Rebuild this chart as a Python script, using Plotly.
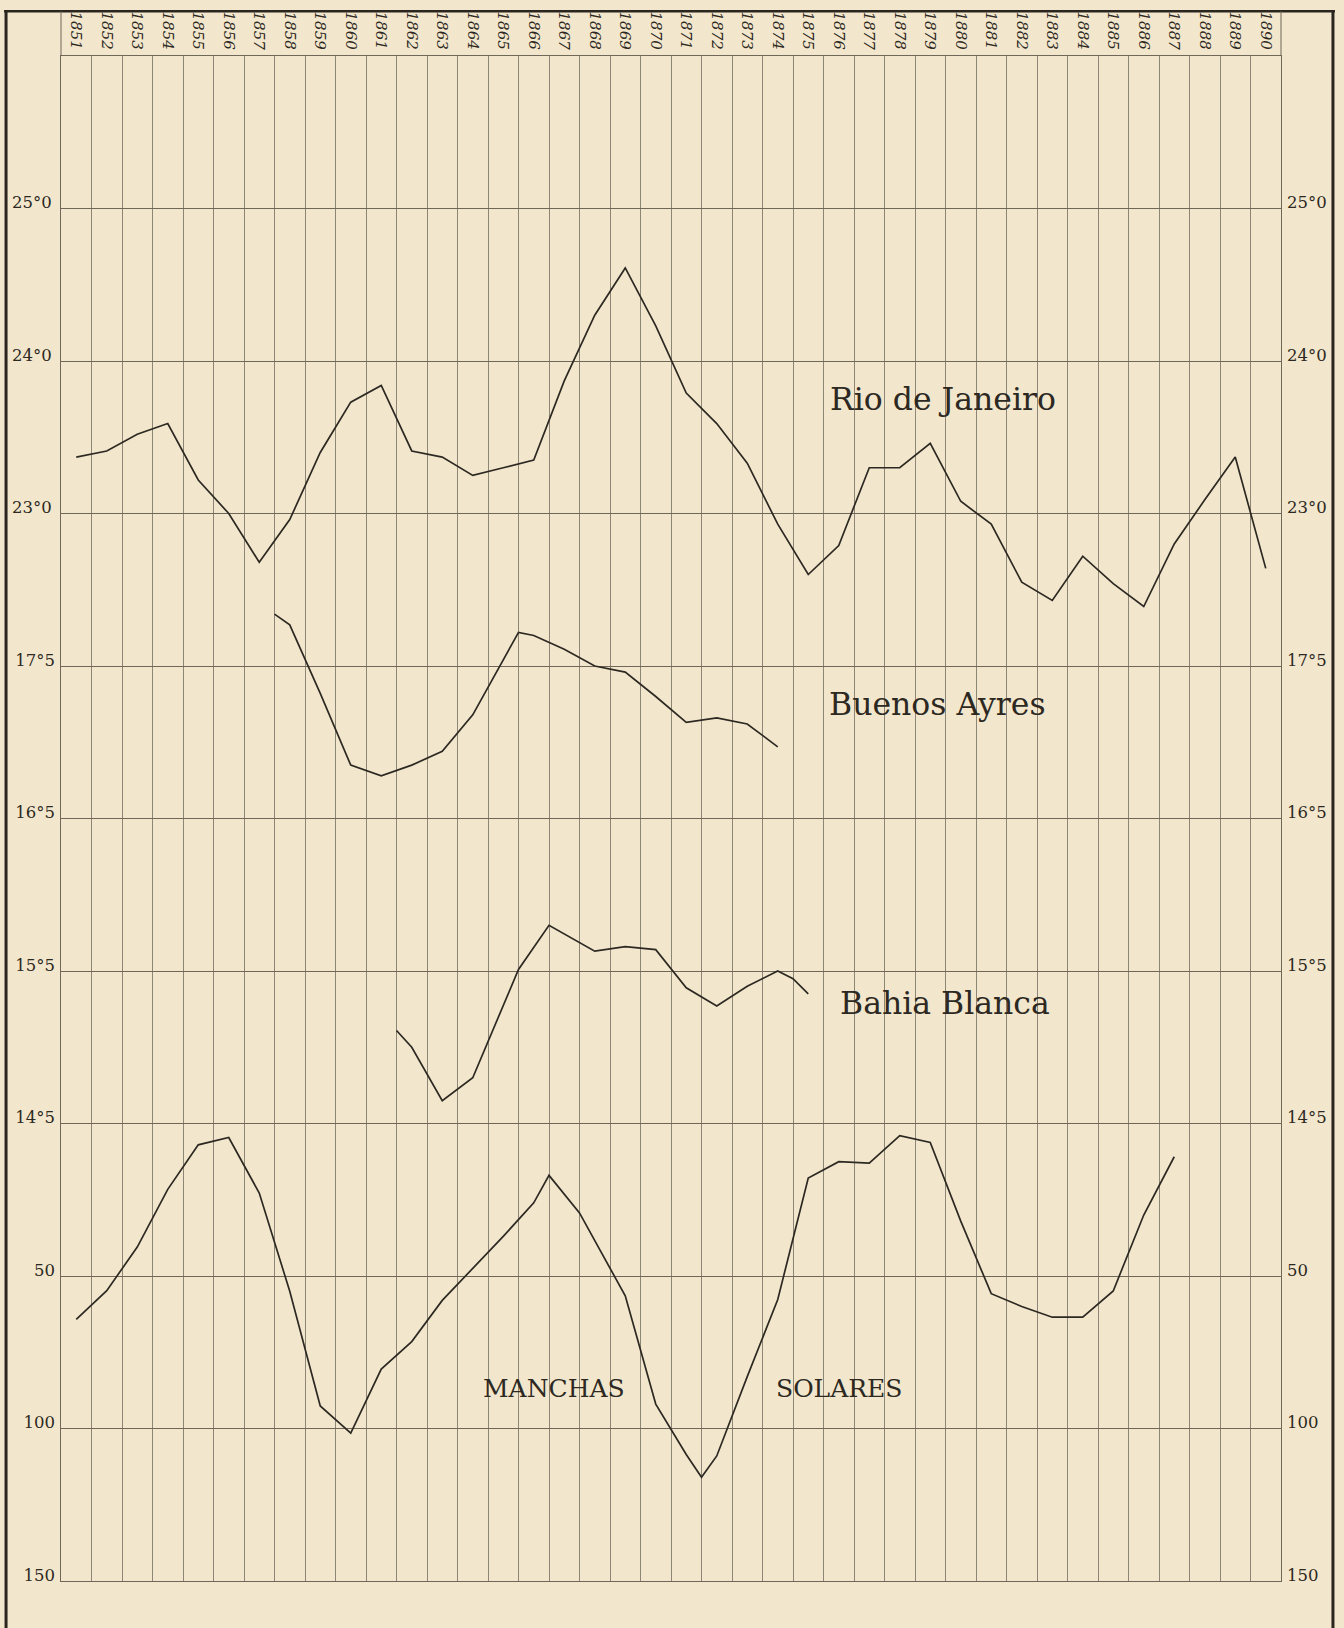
import plotly.graph_objects as go

# ---------------- data ----------------
years = list(range(1851, 1891))
year_labels = [str(y) for y in years]

rio_years = list(range(1851, 1891))
rio_temp = [23.37, 23.41, 23.52, 23.59, 23.22, 23.00, 22.68, 22.96, 23.40, 23.73,
            23.84, 23.41, 23.37, 23.25, 23.30, 23.35, 23.87, 24.30, 24.61, 24.23,
            23.79, 23.59, 23.33, 22.93, 22.60, 22.79, 23.30, 23.30, 23.46, 23.08,
            22.93, 22.55, 22.43, 22.72, 22.54, 22.39, 22.80, 23.09, 23.37, 22.64]

ba_years = [1857.5, 1858, 1859, 1860, 1861, 1862, 1863, 1864, 1865.5, 1866,
            1867, 1868, 1869, 1870, 1871, 1872, 1873, 1874]
ba_temp = [17.84, 17.77, 17.32, 16.85, 16.78, 16.85, 16.94, 17.18, 17.72, 17.70,
           17.61, 17.50, 17.46, 17.30, 17.13, 17.16, 17.12, 16.97]

bb_years = [1861.5, 1862, 1863, 1864, 1865.5, 1866.5, 1868, 1869, 1870, 1871,
            1872, 1873, 1874, 1874.5, 1875]
bb_temp = [15.11, 15.00, 14.65, 14.80, 15.51, 15.80, 15.63, 15.66, 15.64, 15.39,
           15.27, 15.40, 15.50, 15.45, 15.35]

sun_years = [1851, 1852, 1853, 1854, 1855, 1856, 1857, 1858, 1859, 1860,
             1861, 1862, 1863, 1864, 1865, 1866, 1866.5, 1867.5, 1869, 1870,
             1871, 1871.5, 1872, 1873, 1874, 1875, 1876, 1877, 1878, 1879,
             1880, 1881, 1882, 1883, 1884, 1885, 1886, 1887]
sun_vals = [64.2, 54.8, 40.5, 21.6, 7.0, 4.6, 22.8, 55.0, 92.6, 101.5,
            80.5, 71.5, 58.0, 47.5, 37.0, 26.0, 17.0, 29.3, 56.5, 92.0,
            108.5, 116.0, 109.0, 83.0, 57.7, 17.9, 12.5, 13.0, 4.0, 6.2,
            32.0, 55.8, 60.0, 63.5, 63.5, 54.9, 30.0, 10.9]

rio_ticks = [23, 24, 25]
rio_ticktext = ["23°0", "24°0", "25°0"]
arg_ticks = [14.5, 15.5, 16.5, 17.5]
arg_ticktext = ["14°5", "15°5", "16°5", "17°5"]
sun_ticks = [50, 100, 150]
sun_ticktext = ["50", "100", "150"]

# ---------------- style ----------------
W, H = 1344, 1628
ML, MR, MT, MB = 60, 63, 50, 47
PW, PH = W - ML - MR, H - MT - MB
BG = "#f2e7cd"
INK = "#2d2922"
GRID_V = "#8d8575"
GRID_H = "#6f6757"
SERIF = "DejaVu Serif"


def px_x(px):
    return (px - ML) / PW


def px_y(py):
    return (H - MB - py) / PH


line_style = dict(color=INK, width=1.7)

fig = go.Figure()
fig.add_trace(go.Scatter(x=rio_years, y=rio_temp, mode="lines", line=line_style,
                         name="Rio de Janeiro", xaxis="x", yaxis="y"))
fig.add_trace(go.Scatter(x=ba_years, y=ba_temp, mode="lines", line=line_style,
                         name="Buenos Ayres", xaxis="x", yaxis="y2"))
fig.add_trace(go.Scatter(x=bb_years, y=bb_temp, mode="lines", line=line_style,
                         name="Bahia Blanca", xaxis="x", yaxis="y2"))
fig.add_trace(go.Scatter(x=sun_years, y=sun_vals, mode="lines", line=line_style,
                         name="Manchas solares", xaxis="x", yaxis="y3"))
# empty helper traces so the right-hand and top label axes are drawn
for ax in ["y4", "y5", "y6"]:
    fig.add_trace(go.Scatter(x=[None], y=[None], xaxis="x", yaxis=ax,
                             showlegend=False, hoverinfo="skip"))
fig.add_trace(go.Scatter(x=[None], y=[None], xaxis="x2", yaxis="y",
                         showlegend=False, hoverinfo="skip"))

tickfont = dict(family=SERIF, size=16.5, color=INK)

rio_range = [16, 26]
arg_range = [11.5, 21.5]
sun_range = [150, -350]

UP = -6    # lift labels slightly above their line (normal axes)
UP_R = 6   # same lift for the reversed sunspot axis


def yax(rng, tv, tt, side, overlay=None, grid=True, shift=0):
    d = dict(range=rng, tickmode="array", tickvals=tv, ticktext=tt,
             side=side, anchor="x", showgrid=grid, gridcolor=GRID_H, gridwidth=1,
             zeroline=False, ticks="", tickfont=tickfont, fixedrange=True,
             ticklabelstandoff=5, ticklabelshift=shift)
    if overlay:
        d["overlaying"] = overlay
    return d


fig.update_layout(
    width=W, height=H,
    margin=dict(l=ML, r=MR, t=MT, b=MB),
    paper_bgcolor=BG, plot_bgcolor=BG,
    showlegend=False,
    xaxis=dict(range=[1850.5, 1890.5], tickmode="linear", tick0=1850.5, dtick=1,
               showgrid=True, gridcolor=GRID_V, gridwidth=1, zeroline=False,
               showticklabels=False, ticks="", showline=True, mirror=True,
               linecolor=GRID_H, linewidth=1, fixedrange=True),
    xaxis2=dict(range=[1850.5, 1890.5], overlaying="x", side="top", anchor="y",
                tickmode="array", tickvals=years, ticktext=year_labels,
                tickangle=90, showgrid=False, zeroline=False, ticks="",
                tickfont=dict(family=SERIF, size=15, color=INK, style="italic"),
                ticklabelstandoff=3, fixedrange=True),
    yaxis=dict(yax(rio_range, rio_ticks, rio_ticktext, "left", shift=UP),
               showline=True, mirror=True, linecolor=GRID_H, linewidth=1),
    yaxis2=yax(arg_range, arg_ticks, arg_ticktext, "left", overlay="y", shift=UP),
    yaxis3=yax(sun_range, sun_ticks, sun_ticktext, "left", overlay="y", shift=UP_R),
    yaxis4=yax(rio_range, rio_ticks, rio_ticktext, "right", overlay="y", grid=False, shift=UP),
    yaxis5=yax(arg_range, arg_ticks, arg_ticktext, "right", overlay="y", grid=False, shift=UP),
    yaxis6=yax(sun_range, sun_ticks, sun_ticktext, "right", overlay="y", grid=False, shift=UP_R),
)

name_font = dict(family=SERIF, size=31.5, color=INK)
caps_font = dict(family=SERIF, size=25, color=INK)
fig.add_annotation(x=1879.43, y=23.75, xref="x", yref="y", text="Rio de Janeiro",
                   showarrow=False, font=name_font)
fig.add_annotation(x=1879.23, y=17.25, xref="x", yref="y2", text="Buenos Ayres",
                   showarrow=False, font=name_font)
fig.add_annotation(x=1879.49, y=15.29, xref="x", yref="y2", text="Bahia Blanca",
                   showarrow=False, font=name_font)
fig.add_annotation(x=1866.68, y=86.8, xref="x", yref="y3", text="MANCHAS",
                   showarrow=False, font=caps_font)
fig.add_annotation(x=1876.0, y=86.8, xref="x", yref="y3", text="SOLARES",
                   showarrow=False, font=caps_font)

# frame of the sheet
frame = dict(color="#2a261f")
fig.add_shape(type="line", xref="paper", yref="paper", x0=px_x(3), x1=px_x(1335),
              y0=px_y(5), y1=px_y(5), line=dict(frame, width=2.5))
fig.add_shape(type="line", xref="paper", yref="paper", x0=px_x(5), x1=px_x(5),
              y0=px_y(4), y1=px_y(H + 5), line=dict(frame, width=3))
fig.add_shape(type="line", xref="paper", yref="paper", x0=px_x(1333), x1=px_x(1333),
              y0=px_y(4), y1=px_y(H + 5), line=dict(frame, width=3))
for xp in (ML, W - MR):
    fig.add_shape(type="line", xref="paper", yref="paper", x0=px_x(xp), x1=px_x(xp),
                  y0=px_y(5), y1=1, line=dict(color=GRID_H, width=1))

page_css = ("document.body.style.margin='0';"
            "document.body.style.background='" + BG + "';"
            "document.body.style.overflow='hidden';")
fig.write_html("out.html", post_script=page_css,
               config={"displayModeBar": False, "staticPlot": True})
